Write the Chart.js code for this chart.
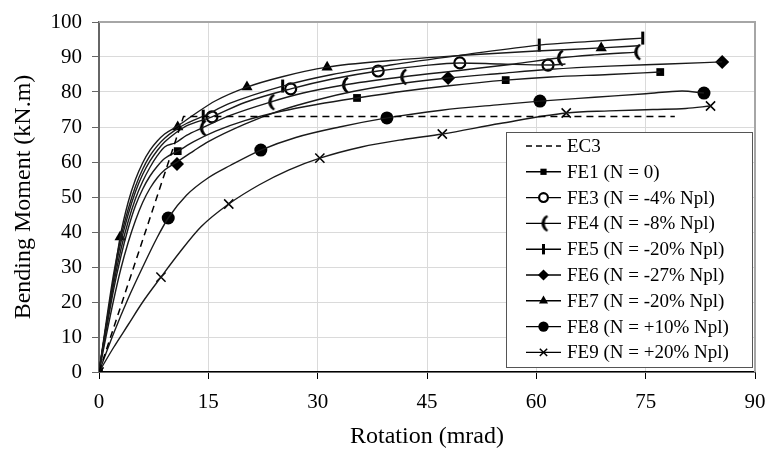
<!DOCTYPE html>
<html>
<head>
<meta charset="utf-8">
<script src="https://cdn.jsdelivr.net/npm/chart.js@4.4.1/dist/chart.umd.min.js"></script>
<style>
  html, body { margin: 0; padding: 0; background: #fff; }
  #wrap { width: 767px; height: 460px; }
</style>
</head>
<body>
<div id="wrap"><canvas id="chart" width="767" height="460"></canvas></div>
<script>
// axis
const xTicks = [0, 15, 30, 45, 60, 75, 90];
const yMax = 100;

// legend labels
const seriesNames = ['EC3', 'FE1 (N = 0)', 'FE3 (N = -4% Npl)', 'FE4 (N = -8% Npl)', 'FE5 (N = -20% Npl)',
    'FE6 (N = -27% Npl)', 'FE7 (N = -20% Npl)', 'FE8 (N = +10% Npl)', 'FE9 (N = +20% Npl)'];

// EC3 design curve
const ec3X = [0, 11.6, 79];
const ec3Y = [0, 73, 73];

// FE curves (rotation mrad / moment kN.m)
const fe1X = [0, 1, 2, 3, 4, 5, 6, 7, 8, 9, 10.8, 13, 16, 20, 25, 30, 35.4, 42, 48, 55.8, 62, 70, 77];
const fe1Y = [0, 12, 23.5, 33, 41, 47.5, 52.3, 56, 58.8, 61, 63.1, 65.8, 68.8, 71.8, 74.5, 76.5, 78.3, 80.3, 81.8, 83.4, 84.3, 85, 85.7];
const fe1MarkX = [0, 10.8, 35.4, 55.8, 77];
const fe1MarkY = [0, 63.1, 78.3, 83.4, 85.7];

const fe3X = [0, 1, 2, 3, 4, 5, 6, 7, 8, 9, 10.5, 12, 15.5, 20, 26.3, 32, 38.3, 44, 49.5, 55, 61.6, 64];
const fe3Y = [0, 13.5, 26.5, 37, 45, 51.5, 56.5, 60.3, 63.3, 65.7, 68.3, 70.3, 72.9, 77, 80.9, 83.7, 86, 87.4, 88.3, 88, 87.7, 88];
const fe3MarkX = [15.5, 26.3, 38.3, 49.5, 61.6];
const fe3MarkY = [72.9, 80.9, 86, 88.3, 87.7];

const fe4X = [0, 1, 2, 3, 4, 5, 6, 7, 8, 9, 10.5, 12, 14.1, 18, 23.5, 28, 33.6, 41.6, 50, 57, 63.1, 68, 73.7];
const fe4Y = [0, 13, 25, 35, 43, 49.5, 54.5, 58.5, 61.8, 64.3, 65.5, 67.6, 69.7, 73.3, 77.1, 79.7, 82, 84.3, 86.3, 88, 89.7, 90.6, 91.4];
const fe4MarkX = [14.1, 23.5, 33.6, 41.6, 63.1, 73.7];
const fe4MarkY = [69.7, 77.1, 82, 84.3, 89.7, 91.4];

const fe5X = [0, 1, 2, 3, 4, 5, 6, 7, 8, 9, 10.5, 12, 14.3, 18, 25.2, 32, 40, 50, 60.4, 67, 74.6];
const fe5Y = [0, 14.5, 28, 38.5, 46.5, 53, 58, 61.8, 64.6, 66.8, 69.2, 71, 73.1, 76.8, 81.7, 85, 87.7, 90.6, 93.4, 94.4, 95.4];
const fe5MarkX = [14.3, 25.2, 60.4, 74.6];
const fe5MarkY = [73.1, 81.7, 93.4, 95.4];

const fe6X = [0, 1, 2, 3, 4, 5, 6, 7, 8, 9, 10.7, 13, 15, 20, 25, 30, 35, 40, 47.9, 55, 62, 70, 78, 85.5];
const fe6Y = [0, 10.5, 20.5, 29.5, 37, 43.3, 48.5, 52.5, 55.5, 57.7, 60, 63.2, 65.8, 70.8, 74.8, 77.8, 80.2, 82, 84, 85.3, 86.5, 87.4, 88, 88.6];
const fe6MarkX = [10.7, 47.9, 85.5];
const fe6MarkY = [59.4, 84, 88.6];

const fe7X = [0, 1, 2, 2.9, 4, 5, 6, 7, 8, 9, 10.8, 13, 16, 20.3, 25, 31.3, 40, 50, 60, 68.9, 74];
const fe7Y = [0, 13.5, 26.5, 38.6, 48.5, 55, 59.8, 63.4, 66, 68, 70.3, 73.5, 77.5, 81.4, 84.3, 87.1, 89, 90.5, 91.7, 92.6, 93.2];
const fe7MarkX = [2.9, 10.8, 20.3, 31.3, 68.9];
const fe7MarkY = [38.6, 70, 81.4, 87.1, 92.6];

const fe8X = [0, 2, 4, 6, 8, 9.5, 12, 15, 18, 22.2, 27, 33, 39.5, 47, 55, 60.5, 68, 75, 80, 83];
const fe8Y = [0, 11, 21, 30, 38.5, 44, 50.5, 55.5, 59, 63.4, 67, 70, 72.6, 74.8, 76.4, 77.4, 78.5, 79.5, 80.3, 79.7];
const fe8MarkX = [9.5, 22.2, 39.5, 60.5, 83];
const fe8MarkY = [44, 63.4, 72.6, 77.4, 79.7];

const fe9X = [0, 2, 4, 6, 8.5, 11, 14, 17.8, 22, 26, 30.3, 36, 42, 47.1, 55, 64.1, 70, 76, 80.5, 83.9];
const fe9Y = [0, 7, 13.5, 20, 27.1, 34, 41.5, 48, 53.5, 57.7, 61.1, 64.3, 66.5, 68, 71, 74, 74.6, 75, 75.3, 76];
const fe9MarkX = [0, 8.5, 17.8, 30.3, 47.1, 64.1, 83.9];
const fe9MarkY = [0, 27.1, 48, 61.1, 68, 74, 76];

const FONT = "'Liberation Serif', 'Times New Roman', serif";

function pts(xs, ys) {
    return xs.map((x, i) => ({ x: x, y: ys[i] }));
}

// "(" shaped marker for FE4
function crescentMarker() {
    const c = document.createElement('canvas');
    c.width = 14; c.height = 20;
    const g = c.getContext('2d');
    g.fillStyle = '#000';
    g.beginPath();
    g.arc(14, 10, 9, Math.PI * 0.64, Math.PI * 1.36);
    g.arc(16.5, 10, 8.2, Math.PI * 1.3, Math.PI * 0.7, true);
    g.closePath();
    g.fill();
    return c;
}
const crescent = crescentMarker();

// marker style per series (same order as seriesNames after EC3)
const markerStyles = [
    { pointStyle: 'rect', radius: 5.5, fill: '#000', border: 0 },
    { pointStyle: 'circle', radius: 5.5, fill: '#fff', border: 2.2 },
    { pointStyle: crescent, radius: 6, fill: '#000', border: 0 },
    { pointStyle: 'line', radius: 6.5, rotation: 90, fill: '#000', border: 3 },
    { pointStyle: 'rectRot', radius: 7, fill: '#000', border: 0 },
    { pointStyle: 'triangle', radius: 6.5, fill: '#000', border: 0 },
    { pointStyle: 'circle', radius: 6.5, fill: '#000', border: 0 },
    { pointStyle: 'crossRot', radius: 6.5, fill: '#000', border: 1.5 }
];

const curves = [
    [fe1X, fe1Y, fe1MarkX, fe1MarkY],
    [fe3X, fe3Y, fe3MarkX, fe3MarkY],
    [fe4X, fe4Y, fe4MarkX, fe4MarkY],
    [fe5X, fe5Y, fe5MarkX, fe5MarkY],
    [fe6X, fe6Y, fe6MarkX, fe6MarkY],
    [fe7X, fe7Y, fe7MarkX, fe7MarkY],
    [fe8X, fe8Y, fe8MarkX, fe8MarkY],
    [fe9X, fe9Y, fe9MarkX, fe9MarkY]
];

const datasets = [];
datasets.push({
    label: seriesNames[0],
    data: pts(ec3X, ec3Y),
    borderColor: '#000',
    borderWidth: 1.5,
    borderDash: [7, 5],
    pointRadius: 0,
    tension: 0
});
curves.forEach((c, i) => {
    datasets.push({
        label: seriesNames[i + 1],
        data: pts(c[0], c[1]),
        borderColor: '#1a1a1a',
        borderWidth: 1.4,
        pointRadius: 0,
        cubicInterpolationMode: 'monotone'
    });
});
curves.forEach((c, i) => {
    const m = markerStyles[i];
    datasets.push({
        label: seriesNames[i + 1] + ' marks',
        data: pts(c[2], c[3]),
        showLine: false,
        pointStyle: m.pointStyle,
        pointRadius: m.radius,
        pointRotation: m.rotation || 0,
        pointBackgroundColor: m.fill,
        pointBorderColor: '#000',
        pointBorderWidth: m.border
    });
});

// grey frame on top and right of the plot
const framePlugin = {
    id: 'frame',
    beforeDatasetsDraw(chart) {
        const { ctx, chartArea: a } = chart;
        ctx.save();
        ctx.strokeStyle = '#a6a6a6';
        ctx.lineWidth = 2;
        ctx.beginPath();
        ctx.moveTo(a.left, a.top);
        ctx.lineTo(a.right, a.top);
        ctx.lineTo(a.right, a.bottom);
        ctx.stroke();
        ctx.restore();
    }
};

// legend box drawn inside the plot
const legendBox = {
    id: 'legendBox',
    afterDraw(chart) {
        const ctx = chart.ctx;
        const left = 506, top = 132, w = 246, h = 235;
        ctx.save();
        ctx.fillStyle = '#fff';
        ctx.fillRect(left, top, w, h);
        ctx.strokeStyle = '#555';
        ctx.lineWidth = 1;
        ctx.strokeRect(left + 0.5, top + 0.5, w, h);
        ctx.font = '19px ' + FONT;
        ctx.textBaseline = 'middle';
        seriesNames.forEach((name, i) => {
            const y = 146 + i * 25.8;
            ctx.strokeStyle = '#000';
            ctx.lineWidth = 1.4;
            ctx.setLineDash(i === 0 ? [6, 4] : []);
            ctx.beginPath();
            ctx.moveTo(526, y);
            ctx.lineTo(561, y);
            ctx.stroke();
            ctx.setLineDash([]);
            if (i > 0) {
                const m = markerStyles[i - 1];
                ctx.fillStyle = m.fill;
                ctx.strokeStyle = '#000';
                ctx.lineWidth = m.border;
                Chart.helpers.drawPoint(ctx, {
                    pointStyle: m.pointStyle,
                    radius: m.radius * 0.8,
                    rotation: m.rotation || 0,
                    borderWidth: m.border
                }, 543.5, y);
            }
            ctx.fillStyle = '#000';
            ctx.fillText(name, 567, y + 1);
        });
        ctx.restore();
    }
};

new Chart(document.getElementById('chart'), {
    type: 'line',
    data: { datasets: datasets },
    options: {
        responsive: false,
        animation: false,
        layout: { padding: { left: 0, right: 12, top: 22, bottom: 0 } },
        plugins: {
            legend: { display: false },
            tooltip: { enabled: false }
        },
        scales: {
            x: {
                type: 'linear',
                min: xTicks[0],
                max: xTicks[xTicks.length - 1],
                afterBuildTicks: (s) => { s.ticks = xTicks.map(v => ({ value: v })); },
                afterFit: (s) => { s.height = 88; s.paddingLeft = 0; s.paddingRight = 0; },
                ticks: { color: '#000', font: { family: FONT, size: 21 }, padding: 11 },
                grid: { color: '#dadada', lineWidth: 1, tickColor: '#000', tickLength: 7 },
                border: { color: '#000', width: 1.5 },
                title: { display: true, text: 'Rotation (mrad)', color: '#000',
                    font: { family: FONT, size: 24 }, padding: { top: 0, bottom: 9 } }
            },
            y: {
                min: 0,
                max: yMax,
                ticks: { stepSize: 10, color: '#000', font: { family: FONT, size: 21 }, padding: 10 },
                afterFit: (s) => { s.width = 99; s.paddingTop = 0; s.paddingBottom = 0; },
                grid: { color: '#dadada', lineWidth: 1, tickColor: '#666', tickLength: 7 },
                border: { color: '#666', width: 2 },
                title: { display: true, text: 'Bending Moment (kN.m)', color: '#000',
                    font: { family: FONT, size: 24 }, padding: { top: 9, bottom: 0 } }
            }
        }
    },
    plugins: [framePlugin, legendBox]
});
</script>
</body>
</html>
